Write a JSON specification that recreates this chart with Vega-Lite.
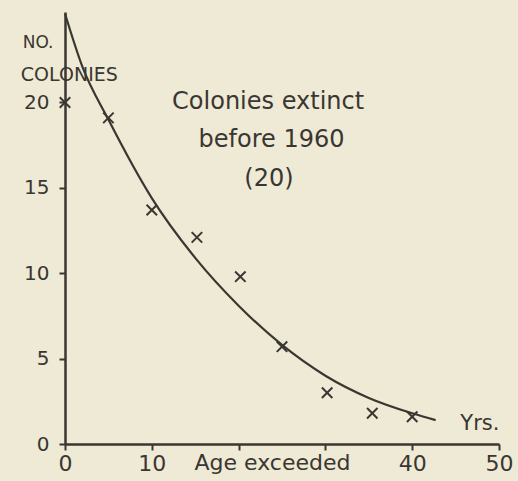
{
  "$schema": "https://vega.github.io/schema/vega-lite/v6.json",
  "autosize": {"type": "none"},
  "padding": {"left": 65, "top": 12, "right": 19, "bottom": 37},
  "width": 434,
  "height": 432,
  "background": "#eeead5",
  "config": {
    "view": {"stroke": null},
    "font": "DejaVu Sans",
    "axis": {"domainColor": "#3a3631", "tickColor": "#3a3631", "labelColor": "#3a3631", "grid": false, "labelFont": "DejaVu Sans", "domainWidth": 2.5, "tickWidth": 2}
  },
  "datasets": {
    "obs": [
      {"age": 0, "n": 20},
      {"age": 5, "n": 19.1},
      {"age": 10, "n": 13.7},
      {"age": 15.2, "n": 12.1},
      {"age": 20.2, "n": 9.8},
      {"age": 25, "n": 5.7},
      {"age": 30.2, "n": 3.0},
      {"age": 35.4, "n": 1.8},
      {"age": 40, "n": 1.6}
    ],
    "curve": [
      {"age": 0, "n": 25.2},
      {"age": 2, "n": 22.1},
      {"age": 5, "n": 19.0},
      {"age": 10, "n": 14.4},
      {"age": 15, "n": 10.9},
      {"age": 20, "n": 8.1},
      {"age": 25, "n": 5.8},
      {"age": 30, "n": 4.0},
      {"age": 35, "n": 2.7},
      {"age": 40, "n": 1.8},
      {"age": 42.7, "n": 1.4}
    ],
    "labels": [
      {"age": 23.4, "n": 20.0, "t": "Colonies extinct", "s": 24},
      {"age": 23.8, "n": 17.8, "t": "before 1960", "s": 24},
      {"age": 23.5, "n": 15.5, "t": "(20)", "s": 24},
      {"age": 47.8, "n": 1.2, "t": "Yrs.", "s": 21},
      {"age": -3.1, "n": 23.5, "t": "NO.", "s": 17},
      {"age": 0.5, "n": 21.6, "t": "COLONIES", "s": 19},
      {"age": 23.9, "n": -1.1, "t": "Age exceeded", "s": 22}
    ]
  },
  "layer": [
    {
      "data": {"name": "curve"},
      "mark": {"type": "line", "interpolate": "monotone", "color": "#3a3631", "strokeWidth": 2.2},
      "encoding": {
        "x": {"field": "age", "type": "quantitative", "scale": {"domain": [0, 50], "nice": false},
          "axis": {"values": [0, 10, 20, 30, 40, 50], "title": null, "tickSize": 6, "labelFontSize": 22, "labelPadding": 3, "labelExpr": "datum.value == 20 || datum.value == 30 ? '' : datum.label", "labelFlush": false}},
        "y": {"field": "n", "type": "quantitative", "scale": {"domain": [0, 25.3], "nice": false, "zero": true},
          "axis": {"values": [0, 5, 10, 15, 20], "title": null, "tickSize": 6, "labelFontSize": 20, "labelPadding": 10}}
      }
    },
    {
      "data": {"name": "obs"},
      "mark": {"type": "point", "shape": "M-1,-1L1,1M1,-1L-1,1", "filled": false, "stroke": "#3a3631", "strokeWidth": 2, "size": 110, "opacity": 1},
      "encoding": {
        "x": {"field": "age", "type": "quantitative"},
        "y": {"field": "n", "type": "quantitative"}
      }
    },
    {
      "data": {"name": "labels"},
      "mark": {"type": "text", "color": "#3a3631", "align": "center", "baseline": "middle", "font": "DejaVu Sans"},
      "encoding": {
        "x": {"field": "age", "type": "quantitative"},
        "y": {"field": "n", "type": "quantitative"},
        "text": {"field": "t"},
        "size": {"field": "s", "type": "quantitative", "scale": null}
      }
    }
  ]
}
